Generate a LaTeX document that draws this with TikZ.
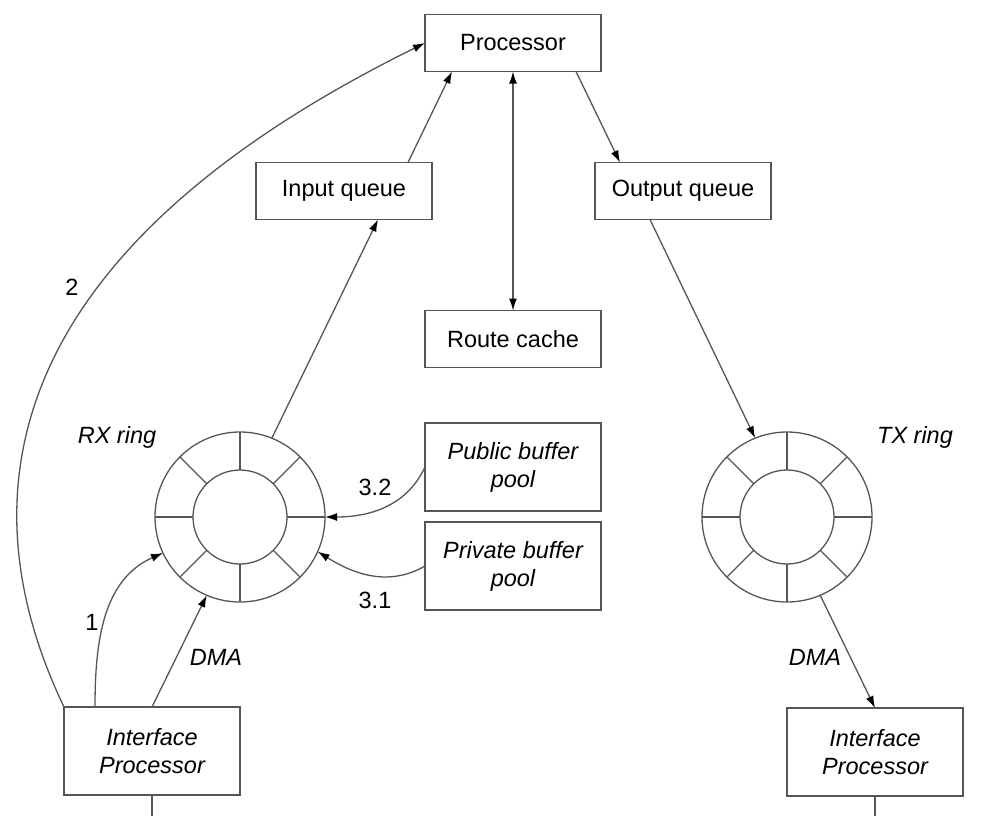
\documentclass[tikz,border=0pt]{standalone}
\usepackage{fontspec}
\setmainfont{Liberation Sans}
\usetikzlibrary{arrows.meta}
\definecolor{linegray}{RGB}{85,85,85}
\tikzset{
  blk/.style={draw=linegray,line width=1.3pt,minimum width=176pt,minimum height=57pt,inner sep=0pt,outer sep=0pt,font=\fontsize{23.5}{28}\selectfont},
  poolblk/.style={blk,minimum height=88pt,align=center,font=\fontsize{23.5}{28}\selectfont\itshape},
  ringc/.style={circle,draw=linegray,line width=1.3pt,inner sep=0pt,outer sep=0pt},
  link/.style={draw=linegray,line width=1.3pt},
  flow/.style={link,-{Latex[length=12pt,width=8pt,color=black]}},
  lbl/.style={font=\fontsize{23.5}{28}\selectfont},
  ilbl/.style={font=\fontsize{23.5}{28}\selectfont\itshape}
}

\begin{document}
\begin{tikzpicture}[x=1pt,y=-1pt]
\useasboundingbox (0,0) rectangle (981,816);
\newcommand{\bufring}[2]{%
\node[ringc,minimum size=170pt] (#2out) at (#1,517) {};
\node[ringc,minimum size=94pt] (#2in) at (#1,517) {};
\foreach \a in {0,45,...,315} \draw[link] (#2in.\a)--(#2out.\a);}
\bufring{240}{rx}
\bufring{787}{tx}
\node[blk] (proc) at (513,43) {Processor};
\node[blk] (inq) at (344,191) {Input queue};
\node[blk] (outq) at (683,191) {Output queue};
\node[blk] (cache) at (513,339) {Route cache};
\node[poolblk] (pubpool) at (513,467) {Public buffer\\pool};
\node[poolblk] (privpool) at (513,566) {Private buffer\\pool};
\node[poolblk] (ipL) at (152,751) {Interface\\Processor};
\node[poolblk] (ipR) at (875,752) {Interface\\Processor};
\coordinate (ipLout) at (152,816);
\coordinate (ipRout) at (875,816);
% processor side
\draw[flow] ([xshift=64pt]inq.north) -- ([xshift=-61pt]proc.south);
\draw[link,{Latex[length=12pt,width=8pt,color=black]}-{Latex[length=12pt,width=8pt,color=black]}] (proc.south) -- (cache.north);
\draw[flow] ([xshift=63pt]proc.south) -- ([xshift=-63pt]outq.north);
\draw[flow] (rxout.68) -- ([xshift=34pt]inq.south);
\draw[flow] ([xshift=-33pt]outq.south) -- (txout.112);
% buffer pools
\draw[flow] (pubpool.west) to[out=-115,in=0] (rxout.0);
\draw[flow] (privpool.west) to[out=210,in=-32] (rxout.-24);
% receive side
\draw[flow] ([xshift=-57pt]ipL.north) to[out=90,in=204] (rxout.205);
\draw[flow] (ipL.north) -- (rxout.-113);
\draw[flow] (ipL.north west) .. controls (-35,500) and (-5,255) .. (proc.west);
\draw[link] (ipL.south) -- (ipLout);
% transmit side
\draw[flow] (txout.-67) -- (ipR.north);
\draw[link] (ipR.south) -- (ipRout);
% labels
\node[lbl] (n2) at (72,287) {2};
\node[lbl] (n1) at (92,622) {1};
\node[lbl] (n32) at (375,487) {3.2};
\node[lbl] (n31) at (375,600) {3.1};
\node[ilbl] (rxlbl) at (117,437) {RX ring};
\node[ilbl] (txlbl) at (915,437) {TX ring};
\node[ilbl] (dmaL) at (216,657) {DMA};
\node[ilbl] (dmaR) at (815,657) {DMA};
\end{tikzpicture}
\end{document}
